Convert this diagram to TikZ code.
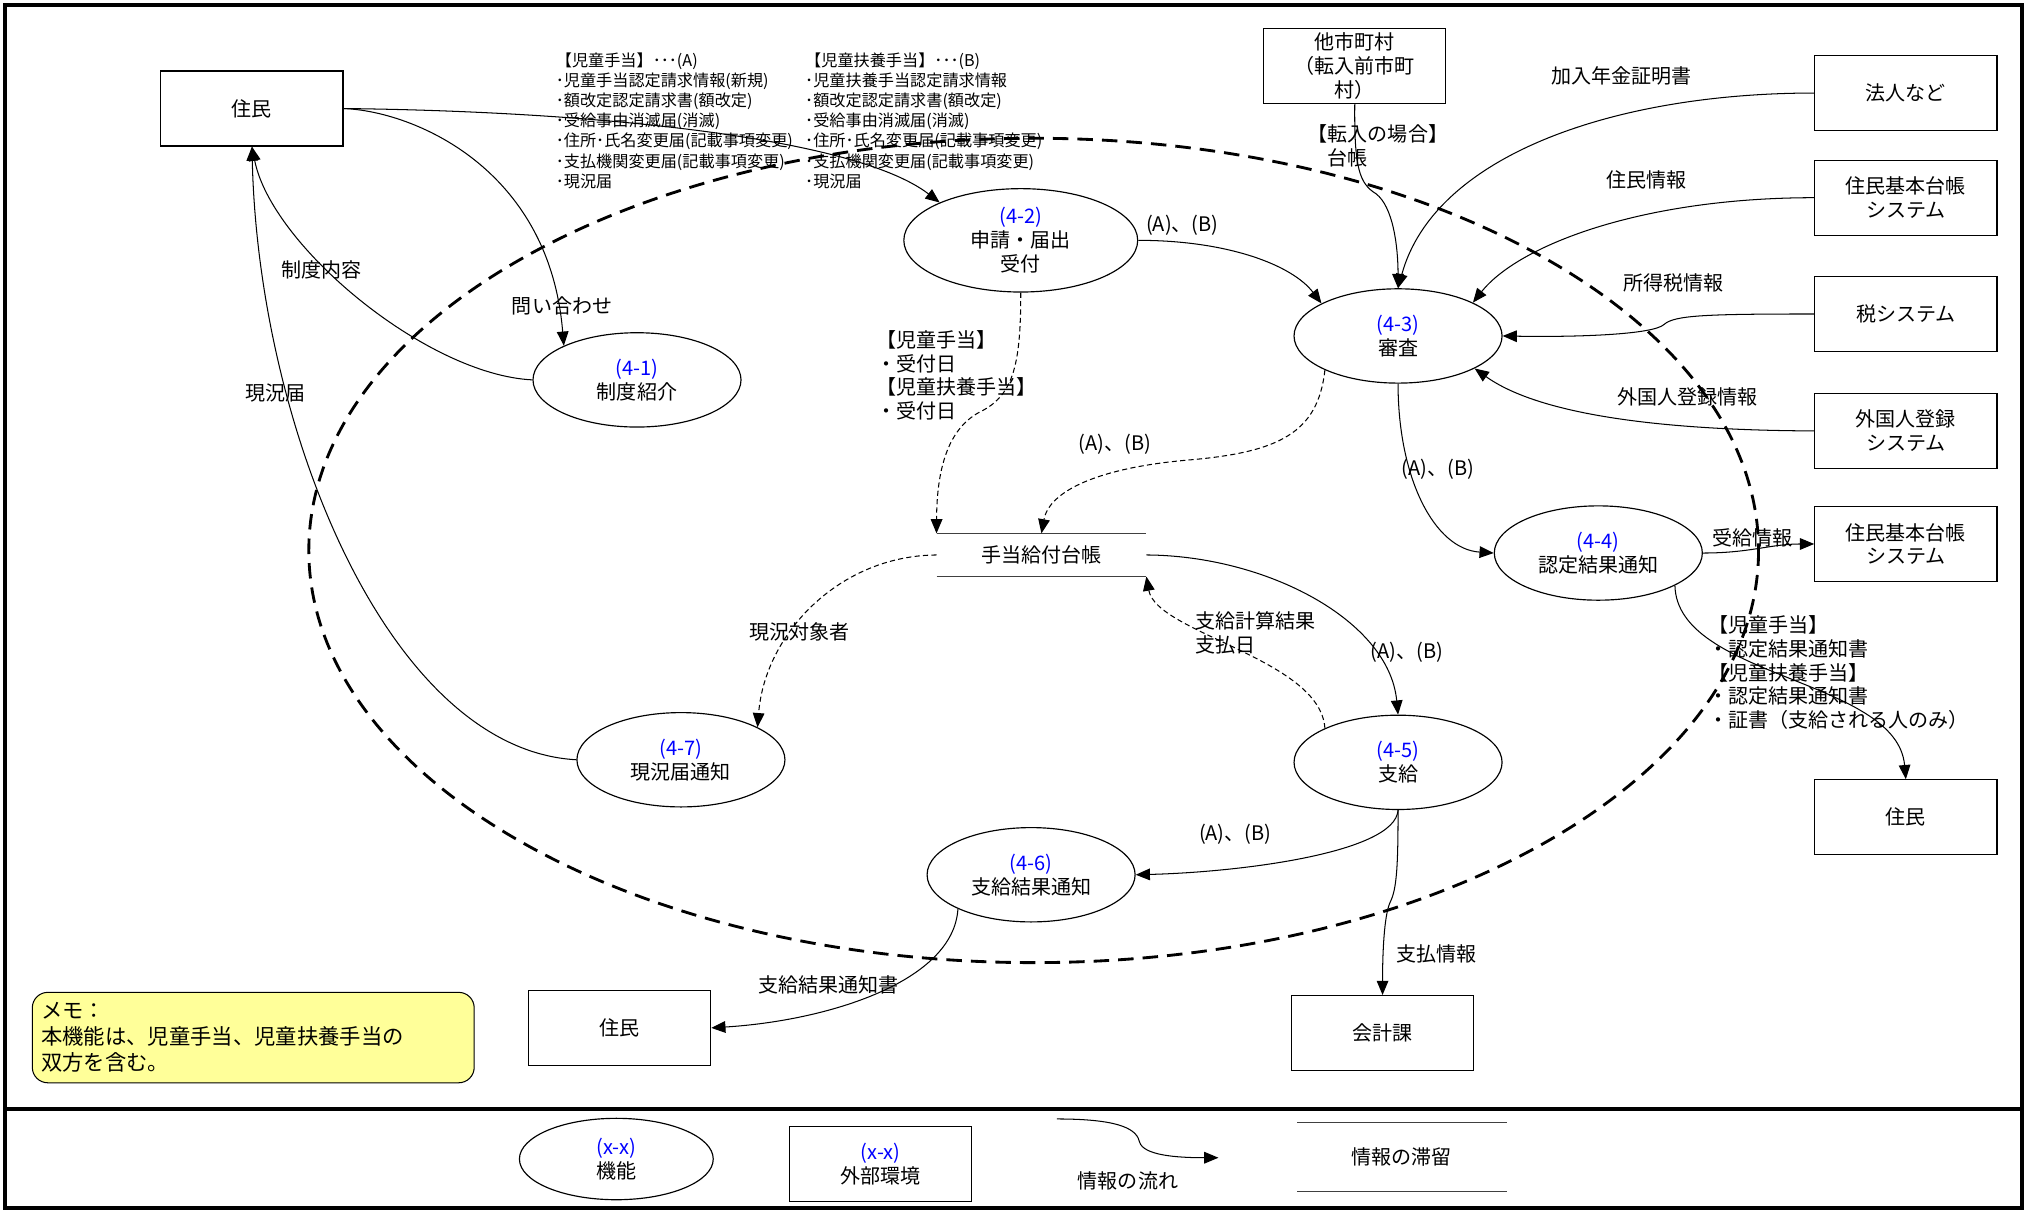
\documentclass[tikz,border=0pt]{standalone}
\usepackage{fontspec}
\setmainfont{Noto Sans CJK JP}
\usetikzlibrary{arrows.meta,shapes.geometric}
\definecolor{memoyellow}{RGB}{255,255,153}
\definecolor{fnblue}{RGB}{0,0,255}
\def\fnum#1{\textcolor{fnblue}{#1}}
\tikzset{
	extbox/.style={draw, line width=0.9pt, minimum width=141pt, minimum height=58pt, align=center, inner sep=1pt},
	funcnode/.style={draw, ellipse, line width=0.9pt, minimum width=161pt, minimum height=73pt, align=center, inner sep=0pt},
	flowarrow/.style={line width=0.8pt, -{Triangle[length=11pt,width=9pt]}},
	dflowarrow/.style={flowarrow, dash pattern=on 4pt off 2.5pt},
	storeline/.style={line width=1.3pt, black!75},
	listtext/.style={align=left, inner sep=0pt, anchor=west},
	smalllist/.style={listtext, font=\fontsize{12.5}{15.5}\selectfont},
}

\begin{document}
\begin{tikzpicture}[x=1pt, y=-1pt, font=\fontsize{15.5}{18.5}\selectfont]
	%%%%% START %%%%%
	\useasboundingbox (0,0) rectangle (1568,938);
	\draw[line width=3pt] (4,4) rectangle (1565,935);
	\draw[line width=3pt] (4,858) -- (1565,858);
	
	% system boundary
	\draw[line width=2.2pt, dash pattern=on 12pt off 7pt] (800,426) ellipse [x radius=561, y radius=319];
	
	% external
	\node[extbox] (jumin) at (195,84) {住民};
	\node[extbox] (tashi) at (1048.5,51) {他市町村\\（転入前市町\\村）};
	\node[extbox] (houjin) at (1475,72) {法人など};
	\node[extbox] (jukiA) at (1475,153) {住民基本台帳\\システム};
	\node[extbox] (zei) at (1475,243) {税システム};
	\node[extbox] (gaikoku) at (1475,333.5) {外国人登録\\システム};
	\node[extbox] (jukiB) at (1475,421) {住民基本台帳\\システム};
	\node[extbox] (juminR) at (1475,632.5) {住民};
	\node[extbox] (juminB) at (479.5,795.5) {住民};
	\node[extbox] (kaikei) at (1070,799.5) {会計課};
	
	% functions
	\node[funcnode] (seido) at (493,294) {\fnum{(4-1)}\\制度紹介};
	\node[funcnode, minimum width=181pt, minimum height=80pt] (shinsei) at (790,186) {\fnum{(4-2)}\\申請・届出\\受付};
	\node[funcnode] (shinsa) at (1082,260) {\fnum{(4-3)}\\審査};
	\node[funcnode] (nintei) at (1237,428) {\fnum{(4-4)}\\認定結果通知};
	\node[funcnode] (shikyu) at (1082,590) {\fnum{(4-5)}\\支給};
	\node[funcnode] (kekka) at (798,677) {\fnum{(4-6)}\\支給結果通知};
	\node[funcnode] (genkyo) at (527,588) {\fnum{(4-7)}\\現況届通知};
	
	% store
	\node[minimum width=162pt, minimum height=33pt, inner sep=0pt] (daicho) at (806,429.5) {手当給付台帳};
	\draw[storeline] (daicho.north west) -- (daicho.north east);
	\draw[storeline] (daicho.south west) -- (daicho.south east);
	
	% flows
	\draw[flowarrow] (jumin.east) .. controls (450,86) and (660,105) .. (shinsei.155);
	\draw[flowarrow] (jumin.east) .. controls (320,86) and (425,130) .. (seido.155);
	\draw[flowarrow] (seido.west) .. controls (330,290) and (210,190) .. (jumin.south);
	\draw[flowarrow] (genkyo.west) .. controls (300,580) and (200,330) .. (jumin.south);
	\draw[flowarrow] (shinsei.east) .. controls (950,186) and (1000,205) .. (shinsa.157);
	\draw[dflowarrow] (shinsei.south) .. controls (790,280) and (785,305) .. (760,318) .. controls (735,330) and (725,360) .. (daicho.north west);
	\draw[dflowarrow] (shinsa.205) .. controls (1020,335) and (990,350) .. (920,356) .. controls (850,362) and (812,380) .. (daicho.north);
	\draw[flowarrow] (shinsa.south) .. controls (1082,370) and (1110,425) .. (nintei.west);
	\draw[flowarrow] (tashi.south) .. controls (1048,130) and (1052,142) .. (1065,150) .. controls (1078,160) and (1082,190) .. (shinsa.north);
	\draw[flowarrow] (houjin.west) .. controls (1250,72) and (1110,120) .. (shinsa.north);
	\draw[flowarrow] (jukiA.west) .. controls (1270,153) and (1175,190) .. (shinsa.24);
	\draw[flowarrow] (zei.west) .. controls (1320,243) and (1296,244) .. (1288,251) .. controls (1280,259) and (1220,261) .. (shinsa.east);
	\draw[flowarrow] (gaikoku.west) .. controls (1280,333) and (1190,320) .. (shinsa.-23);
	\draw[flowarrow] (nintei.east) .. controls (1355,428) and (1370,421) .. (jukiB.west);
	\draw[flowarrow] (nintei.-23) .. controls (1298,525) and (1468,525) .. (juminR.north);
	\draw[flowarrow] (daicho.east) .. controls (980,430) and (1075,480) .. (shikyu.north);
	\draw[dflowarrow] (shikyu.155) .. controls (1022,510) and (895,490) .. (daicho.south east);
	\draw[dflowarrow] (daicho.west) .. controls (650,430) and (592,490) .. (genkyo.23);
	\draw[flowarrow] (shikyu.south) .. controls (1080,660) and (960,675) .. (kekka.east);
	\draw[flowarrow] (shikyu.south) .. controls (1082,670) and (1081,688) .. (1076,698) .. controls (1072,706) and (1070,730) .. (kaikei.north);
	\draw[flowarrow] (kekka.205) .. controls (738,760) and (640,790) .. (juminB.east);
	
	% labels
	\node[smalllist] (lListA) at (430,93.5) {【児童手当】･･･(A)\\･児童手当認定請求情報(新規)\\･額改定認定請求書(額改定)\\･受給事由消滅届(消滅)\\･住所･氏名変更届(記載事項変更)\\･支払機関変更届(記載事項変更)\\･現況届};
	\node[smalllist] (lListB) at (623,93.5) {【児童扶養手当】･･･(B)\\･児童扶養手当認定請求情報\\･額改定認定請求書(額改定)\\･受給事由消滅届(消滅)\\･住所･氏名変更届(記載事項変更)\\･支払機関変更届(記載事項変更)\\･現況届};
	\node (lToi) at (435,237) {問い合わせ};
	\node (lSeido) at (249,209) {制度内容};
	\node (lGenkyo) at (213,304) {現況届};
	\node (lAB1) at (915,174) {(A)、(B)};
	\node[listtext] (lUketsuke) at (678,290.5) {【児童手当】\\・受付日\\【児童扶養手当】\\・受付日};
	\node (lAB2) at (863,344) {(A)、(B)};
	\node (lNenkin) at (1255,59) {加入年金証明書};
	\node[listtext] (lTennyu) at (1012,113) {【転入の場合】\\　台帳};
	\node (lJumin) at (1274,139) {住民情報};
	\node (lZei) at (1295,219) {所得税情報};
	\node (lGaikoku) at (1306,307) {外国人登録情報};
	\node (lAB3) at (1113,363) {(A)、(B)};
	\node (lJukyu) at (1356,416) {受給情報};
	\node[listtext] (lNintei) at (1322,520.5) {【児童手当】\\・認定結果通知書\\【児童扶養手当】\\・認定結果通知書\\・証書（支給される人のみ）};
	\node (lTaisho) at (619,489) {現況対象者};
	\node[listtext] (lKeisan) at (925,490) {支給計算結果\\支払日};
	\node (lAB4) at (1089,505) {(A)、(B)};
	\node (lAB5) at (956,646) {(A)、(B)};
	\node (lShiharai) at (1112,738) {支払情報};
	\node (lTsuchi) at (641,762) {支給結果通知書};
	
	% memo
	\node[draw, line width=0.8pt, rounded corners=12pt, fill=memoyellow, minimum width=342pt, minimum height=70pt, text width=328pt, align=left, inner sep=0pt, font=\fontsize{16.5}{20}\selectfont] (memo) at (196,803) {メモ：\\本機能は、児童手当、児童扶養手当の\\双方を含む。};
	
	% legend
	\node[funcnode, minimum width=150pt, minimum height=63pt] (lgFunc) at (477,897) {\fnum{(x-x)}\\機能};
	\node[extbox] (lgExt) at (681.5,901) {\fnum{(x-x)}\\外部環境};
	\coordinate (lgFrom) at (818,866);
	\coordinate (lgTo) at (943,896);
	\draw[flowarrow] (lgFrom) .. controls (870,866) and (880,875) .. (882,884) .. controls (885,894) and (910,896) .. (lgTo);
	\node (lgFlow) at (873,914) {情報の流れ};
	\node[minimum width=162pt, minimum height=53pt, inner sep=0pt] (lgStore) at (1085,895.5) {情報の滞留};
	\draw[storeline] (lgStore.north west) -- (lgStore.north east);
	\draw[storeline] (lgStore.south west) -- (lgStore.south east);
	%%%%% END %%%%%
\end{tikzpicture}
\end{document}
